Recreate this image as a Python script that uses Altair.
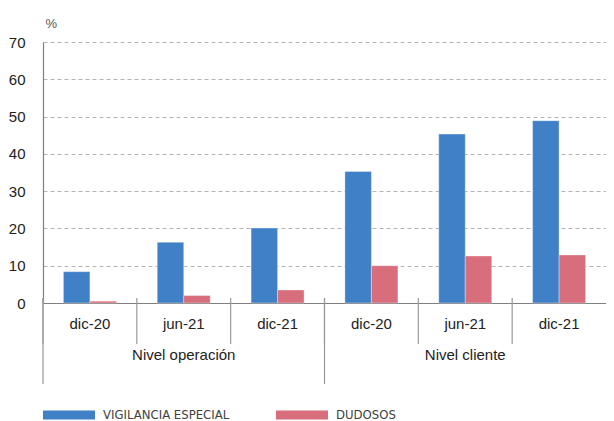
import altair as alt
import pandas as pd

groups = ["Nivel operación", "Nivel cliente"]
periods = ["dic-20", "jun-21", "dic-21"]
series = ["VIGILANCIA ESPECIAL", "DUDOSOS"]
vigilancia = [8.4, 16.3, 20.1, 35.3, 45.3, 48.9]
dudosos = [0.5, 2.0, 3.5, 10.0, 12.6, 12.9]
colors = ["#4080C6", "#D86D7B"]

keys = [f"{g}|{p}" for g in groups for p in periods]

rows = []
for i, k in enumerate(keys):
    rows.append({"key": k, "serie": series[0], "valor": vigilancia[i]})
    rows.append({"key": k, "serie": series[1], "valor": dudosos[i]})
df = pd.DataFrame(rows)

cats = pd.DataFrame({"key": keys})
grp = pd.DataFrame({
    "grupo": groups,
    "first": [f"{g}|{periods[0]}" for g in groups],
    "middle": [f"{g}|{periods[1]}" for g in groups],
})

FONT = "Liberation Sans, Arial, Helvetica, sans-serif"
NARROW = "Liberation Sans Narrow, DejaVu Sans Condensed, sans-serif"

xscale = alt.Scale(domain=keys, paddingInner=0, paddingOuter=0)

bars = alt.Chart(df).mark_bar(stroke="white", strokeWidth=1, strokeOpacity=0.35).encode(
    x=alt.X("key:N", scale=xscale, sort=keys, title=None,
            axis=alt.Axis(labelExpr="split(datum.label, '|')[1]", labelAngle=0,
                          ticks=False, domainColor="#808080", domainWidth=1.2,
                          labelFont=FONT, labelFontSize=15, labelColor="#222222",
                          labelPadding=13, grid=False)),
    xOffset=alt.XOffset("serie:N", sort=series,
                        scale=alt.Scale(paddingInner=0, paddingOuter=0.77)),
    y=alt.Y("valor:Q", scale=alt.Scale(domain=[0, 70]),
            axis=alt.Axis(values=[0, 10, 20, 30, 40, 50, 60, 70], ticks=False,
                          labelFont=FONT, labelFontSize=15, labelColor="#222222",
                          labelPadding=18, domainColor="#808080", domainWidth=1.2,
                          gridColor="#B5B5B5", gridDash=[4, 3], gridWidth=1.2,
                          title="%", titleAngle=0, titleAlign="left",
                          titleBaseline="alphabetic", titleX=2, titleY=-15,
                          titleFont=FONT, titleFontSize=13, titleFontWeight="normal",
                          titleColor="#555555")),
    color=alt.Color("serie:N", sort=series,
                    scale=alt.Scale(domain=series, range=colors),
                    legend=alt.Legend(title=None, orient="none", direction="horizontal",
                                      legendX=0, legendY=347,
                                      symbolType="M-1,-0.173L1,-0.173L1,0.173L-1,0.173Z",
                                      symbolSize=2704, symbolStrokeWidth=0,
                                      labelFont=NARROW, labelFontSize=13,
                                      labelColor="#404040", labelOffset=8,
                                      columnPadding=46, labelLimit=300)),
)

seps = alt.Chart(cats).mark_rule(color="#999999", strokeWidth=1.2).encode(
    x=alt.X("key:N", scale=xscale, sort=keys, bandPosition=0),
    y=alt.value(256),
    y2=alt.value(302),
)

gseps = alt.Chart(grp).mark_rule(color="#999999", strokeWidth=1.2).encode(
    x=alt.X("first:N", scale=xscale, sort=keys, bandPosition=0),
    y=alt.value(256),
    y2=alt.value(342),
)

glabels = alt.Chart(grp).mark_text(font=FONT, fontSize=15, color="#222222",
                                   baseline="middle").encode(
    x=alt.X("middle:N", scale=xscale, sort=keys, bandPosition=0.5),
    y=alt.value(313),
    text="grupo:N",
)

chart = alt.layer(bars, seps, gseps, glabels).properties(
    width=563, height=261,
    padding={"left": 35, "top": 34, "right": 0, "bottom": 118},
    autosize=alt.AutoSizeParams(type="none"),
    background="white",
).configure_view(stroke=None)

chart.save("out.html", embed_options={"renderer": "svg", "actions": False})
